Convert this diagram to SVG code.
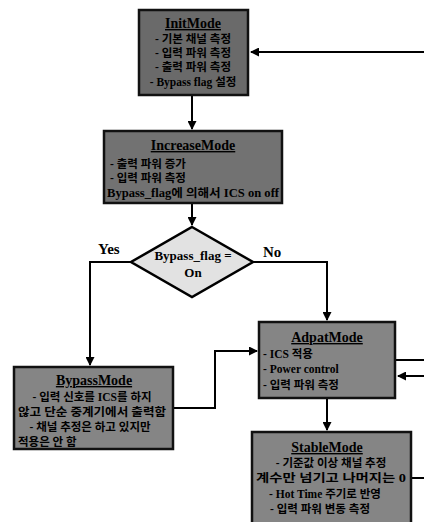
<svg xmlns="http://www.w3.org/2000/svg" width="424" height="522" viewBox="0 0 424 522">
<defs>
<marker id="ah" markerWidth="9" markerHeight="9" refX="8" refY="4.5" orient="auto" markerUnits="userSpaceOnUse">
<path d="M0,0 L9,4.5 L0,9 Z" fill="#000"/>
</marker>
</defs>
<style>
.box{stroke:#111;stroke-width:2.5}
.t{font-family:"Liberation Serif","Noto Sans CJK KR",serif;font-weight:bold;fill:#000}
.title{font-size:14px;text-anchor:middle;text-decoration:underline}
.b{font-size:11.5px}
.c{text-anchor:middle}
.ln{fill:none;stroke:#000;stroke-width:2}
.lbl{font-family:"Liberation Serif",serif;font-weight:bold;font-size:15px;fill:#000}
</style>
<rect width="424" height="522" fill="#fff"/>
<g id="connectors">
<path class="ln" d="M424,52 H251" marker-end="url(#ah)"/>
<path class="ln" d="M192,96 V129" marker-end="url(#ah)"/>
<path class="ln" d="M192,204 V225" marker-end="url(#ah)"/>
<path class="ln" d="M131,262 H90 V365" marker-end="url(#ah)"/>
<path class="ln" d="M253,262 H327 V320" marker-end="url(#ah)"/>
<path class="ln" d="M174,408 H215 V351 H257" marker-end="url(#ah)"/>
<path class="ln" d="M396,360 H424"/>
<path class="ln" d="M424,376 H398" marker-end="url(#ah)"/>
<path class="ln" d="M327,399 V430" marker-end="url(#ah)"/>
<path class="ln" d="M412,478 H424"/>
<text class="lbl" x="98" y="254">Yes</text>
<text class="lbl" x="263" y="257">No</text>
</g>
<g id="InitMode">
<rect class="box" x="139" y="10" width="109" height="85" fill="#6a6a6a"/>
<text class="t title" x="193" y="28">InitMode</text>
<text class="t b c" x="193" y="43">- 기본 채널 측정</text>
<text class="t b c" x="193" y="57">- 입력 파워 측정</text>
<text class="t b c" x="193" y="71">- 출력 파워 측정</text>
<text class="t b c" x="193" y="86">- Bypass flag 설정</text>
</g>
<g id="IncreaseMode">
<rect class="box" x="104" y="131" width="178" height="72" fill="#727272"/>
<text class="t title" x="193" y="150">IncreaseMode</text>
<text class="t b" x="110" y="168">- 출력 파워 증가</text>
<text class="t b" x="110" y="182">- 입력 파워 측정</text>
<text class="t b c" x="193" y="197" textLength="172" lengthAdjust="spacingAndGlyphs">Bypass_flag에 의해서 ICS on off</text>
</g>
<g id="Decision">
<polygon points="192,227 253,262 192,297 131,262" fill="#e2e2e2" stroke="#000" stroke-width="2.5"/>
<text class="t c" font-size="13" x="193" y="260">Bypass_flag =</text>
<text class="t c" font-size="13" x="193" y="277">On</text>
</g>
<g id="BypassMode">
<rect class="box" x="14" y="367" width="159" height="82" fill="#858585"/>
<text class="t title" x="94" y="385">BypassMode</text>
<text class="t b c" x="92" y="401">- 입력 신호를 ICS를 하지</text>
<text class="t b c" x="92" y="416" textLength="148" lengthAdjust="spacingAndGlyphs">않고 단순 중계기에서 출력함</text>
<text class="t b c" x="90" y="431">- 채널 추정은 하고 있지만</text>
<text class="t b" x="18" y="446">적용은 안 함</text>
</g>
<g id="AdpatMode">
<rect class="box" x="259" y="322" width="136" height="76" fill="#858585"/>
<text class="t title" x="327" y="342">AdpatMode</text>
<text class="t b" x="263" y="358">- ICS 적용</text>
<text class="t b" x="263" y="373">- Power control</text>
<text class="t b" x="263" y="389">- 입력 파워 측정</text>
</g>
<g id="StableMode">
<rect class="box" x="252" y="432" width="159" height="95" fill="#858585"/>
<text class="t title" x="327" y="452">StableMode</text>
<text class="t b c" x="331" y="467">- 기준값 이상 채널 추정</text>
<text class="t b c" x="331" y="482" textLength="150" lengthAdjust="spacingAndGlyphs">계수만 넘기고 나머지는 0</text>
<text class="t b c" x="325" y="498">- Hot Time 주기로 반영</text>
<text class="t b c" x="320" y="513">- 입력 파워 변동 측정</text>
</g>
</svg>
